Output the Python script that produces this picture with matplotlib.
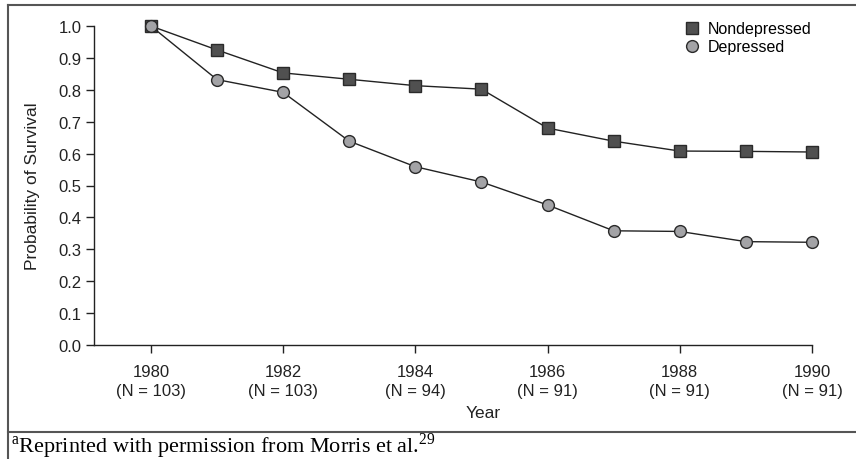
import matplotlib
matplotlib.use("Agg")
import matplotlib.pyplot as plt
from matplotlib.lines import Line2D

# --- data -------------------------------------------------------------
years = [1980, 1981, 1982, 1983, 1984, 1985, 1986, 1987, 1988, 1989, 1990]
nondepressed = [1.0, 0.925, 0.853, 0.833, 0.813, 0.802, 0.680, 0.639, 0.608, 0.607, 0.605]
depressed = [1.0, 0.832, 0.792, 0.639, 0.559, 0.511, 0.439, 0.358, 0.356, 0.324, 0.322]
tick_years = [1980, 1982, 1984, 1986, 1988, 1990]
tick_n = [103, 103, 94, 91, 91, 91]
y_ticks = [0.0, 0.1, 0.2, 0.3, 0.4, 0.5, 0.6, 0.7, 0.8, 0.9, 1.0]
# ----------------------------------------------------------------------

plt.rcParams["font.family"] = ["Liberation Sans", "DejaVu Sans"]
plt.rcParams["mathtext.fontset"] = "custom"
plt.rcParams["mathtext.rm"] = "Liberation Serif"

W, H = 856, 460
fig = plt.figure(figsize=(W / 100, H / 100), dpi=100)

# outer frame and footnote divider
frame_col = "#555555"
fig.add_artist(Line2D([8 / W, 8 / W], [0, 1 - 6 / H], color=frame_col, lw=1.5,
                      transform=fig.transFigure))
fig.add_artist(Line2D([8 / W, 1], [1 - 6 / H, 1 - 6 / H], color=frame_col, lw=1.5,
                      transform=fig.transFigure))
fig.add_artist(Line2D([8 / W, 1], [1 - 433 / H, 1 - 433 / H], color=frame_col, lw=1.5,
                      transform=fig.transFigure))

ax = fig.add_axes([94 / W, 1 - 346 / H, (812 - 94) / W, (346 - 27) / H])

line_col = "#222222"
ax.plot(years, nondepressed, color=line_col, lw=1.0, marker="s", markersize=8,
        markerfacecolor="#505050", markeredgecolor="#2a2a2a", markeredgewidth=1.0,
        clip_on=False, zorder=3, label="Nondepressed")
ax.plot(years, depressed, color=line_col, lw=1.0, marker="o", markersize=8.5,
        markerfacecolor="#a3a3a6", markeredgecolor="#2a2a2a", markeredgewidth=1.0,
        clip_on=False, zorder=4, label="Depressed")

ax.set_xlim(1979.14, 1990)
ax.set_ylim(0, 1.0)
ax.set_xticks(tick_years)
ax.set_xticklabels([f"{y}\n(N = {n})" for y, n in zip(tick_years, tick_n)],
                   linespacing=1.3)
ax.set_yticks(y_ticks)
ax.set_yticklabels([f"{v:.1f}" for v in y_ticks])
ax.tick_params(axis="both", direction="out", length=6, width=1.0, color=line_col,
               labelsize=12, labelcolor="#222222")
ax.tick_params(axis="x", pad=8)
ax.tick_params(axis="y", pad=3)

for side in ("top", "right"):
    ax.spines[side].set_visible(False)
for side in ("left", "bottom"):
    ax.spines[side].set_color(line_col)
    ax.spines[side].set_linewidth(1.0)

ax.set_ylabel("Probability of Survival", fontsize=12.5, color="#222222")
ax.yaxis.set_label_coords(-(94 - 33) / (812 - 94), 0.5)
ax.set_xlabel("Year", fontsize=12.5, color="#222222")
ax.xaxis.set_label_coords((483 - 94) / (812 - 94), -(414 - 346) / (346 - 27))
ax.xaxis.label.set_va("center")
ax.yaxis.label.set_va("center")

ax.legend(loc="upper left", bbox_to_anchor=((679 - 94) / (812 - 94), 1.035),
          frameon=False, fontsize=11.5, handlelength=0.8, handletextpad=0.6,
          labelspacing=0.2, borderaxespad=0)
for h in ax.get_legend().legend_handles:
    h.set_linestyle("None")

fig.text(11 / W, 1 - 446 / H,
         r"$^{\mathrm{a}}$Reprinted with permission from Morris et al.$^{29}$",
         fontsize=16, family="Liberation Serif", va="center", ha="left")

fig.savefig("out.png", dpi=100)
